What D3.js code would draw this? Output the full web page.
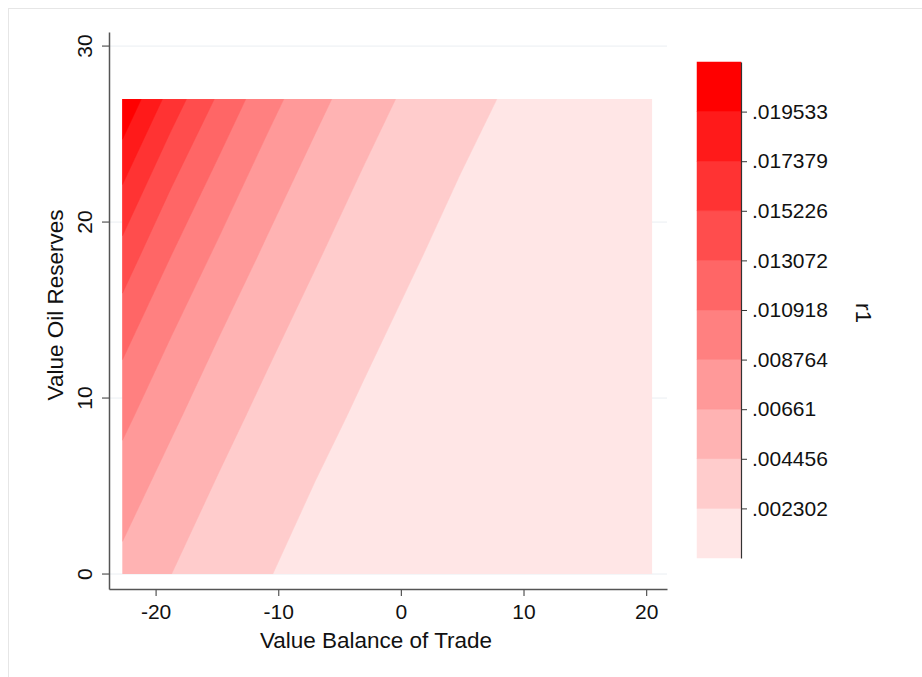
<!DOCTYPE html>
<html>
<head>
<meta charset="utf-8">
<script src="https://cdn.jsdelivr.net/npm/d3@7"></script>
<style>
  body { margin: 0; background: #fff; }
  text { font-family: "Liberation Sans", Arial, Helvetica, sans-serif; fill: #111; }
</style>
</head>
<body>
<svg id="chart" width="922" height="677"></svg>
<script>
// grid of the surface: x = balance of trade, y = oil reserves
var xGrid = [-22.7, -18.77, -14.85, -10.92, -6.99, -3.07, 0.86, 4.79, 8.72, 12.64, 16.57, 20.5];
var yGrid = [0, 9, 18, 27];

// r1, one row per y value
var r1_y0  = [0.006036, 0.004482, 0.003281, 0.002400, 0.001701, 0.001201, 0.000847, 0.000597, 0.000421, 0.000298, 0.000210, 0.000148];
var r1_y9  = [0.009387, 0.007092, 0.005287, 0.003901, 0.002852, 0.002064, 0.001456, 0.001027, 0.000724, 0.000511, 0.000361, 0.000255];
var r1_y18 = [0.014404, 0.010900, 0.008302, 0.006232, 0.004626, 0.003393, 0.002482, 0.001765, 0.001245, 0.000879, 0.000620, 0.000437];
var r1_y27 = [0.021687, 0.016612, 0.012759, 0.009669, 0.007315, 0.005462, 0.004036, 0.002952, 0.002142, 0.001513, 0.001067, 0.000753];

// contour levels (min .. max) and the labels on the colour bar
var levels = [0.000148, 0.002302, 0.004456, 0.00661, 0.008764, 0.010918, 0.013072, 0.015226, 0.017379, 0.019533, 0.021687];
var levelLabels = [".002302", ".004456", ".00661", ".008764", ".010918", ".013072", ".015226", ".017379", ".019533"];

var xTicks = [-20, -10, 0, 10, 20];
var yTicks = [0, 10, 20, 30];

var tickFont = "21px";
var titleFont = "22.5px";
var svg = d3.select("#chart");

// faint frame of the graph region
svg.append("line").attr("x1", 8).attr("x2", 922).attr("y1", 8.5).attr("y2", 8.5)
  .attr("stroke", "#e6e6e6");
svg.append("line").attr("x1", 8.5).attr("x2", 8.5).attr("y1", 8).attr("y2", 677)
  .attr("stroke", "#e6e6e6");

var x = d3.scaleLinear().domain([-23.8, 21.7]).range([109, 667]);
var y = d3.scaleLinear().domain([-0.85, 30.8]).range([589, 32]);

// band colours: white -> red
var bandColor = function(k) { return d3.interpolateRgb("#ffffff", "#ff0000")((k + 1) / 10); };

// grid lines
svg.append("g").selectAll("line").data(yTicks).join("line")
  .attr("x1", x.range()[0]).attr("x2", x.range()[1])
  .attr("y1", d => y(d)).attr("y2", d => y(d))
  .attr("stroke", "#eaeef2").attr("stroke-width", 1);

// contour surface
var nx = xGrid.length, ny = yGrid.length;
var dx = (xGrid[nx - 1] - xGrid[0]) / (nx - 1);
var dy = (yGrid[ny - 1] - yGrid[0]) / (ny - 1);
var values = [].concat(r1_y0, r1_y9, r1_y18, r1_y27).map(Math.log);

var contours = d3.contours()
  .size([nx, ny])
  .thresholds(levels.slice(1, levels.length - 1).map(Math.log))(values);

var toPixels = d3.geoTransform({
  point: function(cx, cy) {
    this.stream.point(x(xGrid[0] + (cx - 0.5) * dx), y(yGrid[0] + (cy - 0.5) * dy));
  }
});
var path = d3.geoPath(toPixels);

svg.append("clipPath").attr("id", "surf").append("rect")
  .attr("x", x(xGrid[0])).attr("y", y(yGrid[ny - 1]))
  .attr("width", x(xGrid[nx - 1]) - x(xGrid[0]))
  .attr("height", y(yGrid[0]) - y(yGrid[ny - 1]));

var surf = svg.append("g").attr("clip-path", "url(#surf)");
surf.append("rect")
  .attr("x", x(xGrid[0])).attr("y", y(yGrid[ny - 1]))
  .attr("width", x(xGrid[nx - 1]) - x(xGrid[0]))
  .attr("height", y(yGrid[0]) - y(yGrid[ny - 1]))
  .attr("fill", bandColor(0));
surf.selectAll("path").data(contours).join("path")
  .attr("d", path)
  .attr("fill", (d, i) => bandColor(i + 1))
  .attr("stroke", (d, i) => bandColor(i + 1))
  .attr("stroke-width", 0.5);

// axes
var xAxis = svg.append("g").attr("transform", "translate(0,589)")
  .call(d3.axisBottom(x).tickValues(xTicks).tickFormat(d => String(d))
    .tickSize(7).tickPadding(8).tickSizeOuter(0));
var yAxis = svg.append("g").attr("transform", "translate(109,0)")
  .call(d3.axisLeft(y).tickValues(yTicks).tickFormat(d => String(d))
    .tickSize(7).tickPadding(5).tickSizeOuter(0));

[xAxis, yAxis].forEach(function(g) {
  g.select(".domain").attr("stroke", "#555").attr("stroke-width", 1.5);
  g.selectAll(".tick line").attr("stroke", "#555").attr("stroke-width", 1.2);
  g.selectAll("text").style("font-size", tickFont).attr("fill", "#111");
});
xAxis.selectAll("text").attr("dy", "0.72em");
yAxis.selectAll("text")
  .attr("transform", d => "translate(" + (-17) + "," + y(d) + ") rotate(-90)")
  .attr("x", 0).attr("y", 0).attr("dy", "0").attr("text-anchor", "middle");
yAxis.selectAll(".tick").attr("transform", null);
yAxis.selectAll(".tick line").attr("transform", d => "translate(0," + y(d) + ")");

// axis titles
svg.append("text").attr("x", 376).attr("y", 648).attr("text-anchor", "middle")
  .style("font-size", titleFont).text("Value Balance of Trade");
svg.append("text").attr("transform", "translate(63,305) rotate(-90)")
  .attr("text-anchor", "middle").style("font-size", titleFont).text("Value Oil Reserves");

// colour bar
var c = d3.scaleLinear().domain([levels[0], levels[levels.length - 1]]).range([558, 62]);
svg.append("g").selectAll("rect").data(d3.range(levels.length - 1)).join("rect")
  .attr("x", 697).attr("width", 44)
  .attr("y", k => c(levels[k + 1]))
  .attr("height", k => c(levels[k]) - c(levels[k + 1]))
  .attr("fill", k => bandColor(k))
  .attr("stroke", k => bandColor(k)).attr("stroke-width", 0.5);

var cAxis = svg.append("g").attr("transform", "translate(741,0)")
  .call(d3.axisRight(c).tickValues(levels.slice(1, levels.length - 1))
    .tickFormat((d, i) => levelLabels[i]).tickSize(6).tickPadding(5).tickSizeOuter(0));
cAxis.select(".domain").attr("stroke", "#333").attr("stroke-width", 1.2);
cAxis.selectAll(".tick line").attr("stroke", "#333");
cAxis.selectAll("text").style("font-size", tickFont).attr("fill", "#111");

svg.append("text").attr("transform", "translate(856,313) rotate(90)")
  .attr("text-anchor", "middle").style("font-size", titleFont).text("r1");
</script>
</body>
</html>
